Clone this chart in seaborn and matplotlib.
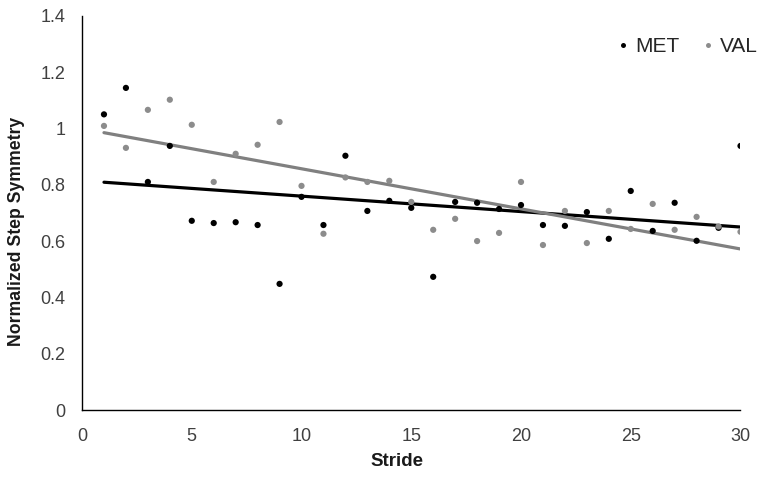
import numpy as np
import pandas as pd
import matplotlib
matplotlib.use('Agg')
import matplotlib.pyplot as plt
import seaborn as sns

stride = list(range(1, 31))
met = [1.05, 1.144, 0.81, 0.938, 0.672, 0.664, 0.667, 0.657, 0.448, 0.757,
       0.657, 0.903, 0.707, 0.743, 0.718, 0.473, 0.739, 0.736, 0.714, 0.728,
       0.657, 0.654, 0.703, 0.608, 0.778, 0.636, 0.736, 0.601, 0.647, 0.938]
val = [1.009, 0.931, 1.066, 1.102, 1.013, 0.810, 0.910, 0.942, 1.023, 0.796,
       0.626, 0.826, 0.810, 0.814, 0.739, 0.640, 0.679, 0.600, 0.629, 0.810,
       0.586, 0.707, 0.593, 0.707, 0.643, 0.732, 0.640, 0.686, 0.652, 0.633]

df = pd.DataFrame({'Stride': stride * 2,
                   'value': met + val,
                   'group': ['MET'] * 30 + ['VAL'] * 30})

colors = {'MET': '#000000', 'VAL': '#8c8c8c'}

sns.set_style('white')
plt.rcParams['font.family'] = ['Liberation Sans', 'DejaVu Sans']

fig = plt.figure(figsize=(7.63, 4.79), dpi=100)
ax = fig.add_axes([0.1075, 0.144, 0.863, 0.823])

# linear trendlines, drawn first
for g, lc in [('MET', '#000000'), ('VAL', '#808080')]:
    sub = df[df['group'] == g]
    k, b = np.polyfit(sub['Stride'], sub['value'], 1)
    fit = pd.DataFrame({'Stride': [1, 30]})
    fit['value'] = k * fit['Stride'] + b
    sns.lineplot(data=fit, x='Stride', y='value', color=lc, lw=2.3, ax=ax,
                 legend=False, zorder=1)

sns.scatterplot(data=df, x='Stride', y='value', hue='group', palette=colors,
                s=20, edgecolor='none', ax=ax, zorder=2)

ax.set_xlim(0, 30)
ax.set_ylim(0, 1.4)
ax.set_xticks([0, 5, 10, 15, 20, 25, 30])
ax.set_yticks([0, 0.2, 0.4, 0.6, 0.8, 1.0, 1.2, 1.4])
ax.set_yticklabels(['0', '0.2', '0.4', '0.6', '0.8', '1', '1.2', '1.4'])
ax.tick_params(labelsize=13, length=0, colors='#404040')
ax.tick_params(axis='x', pad=13)
ax.tick_params(axis='y', pad=12)
ax.set_xlabel('Stride', fontsize=13.5, fontweight='bold', color='#1a1a1a')
ax.set_ylabel('Normalized Step Symmetry', fontsize=12.7, fontweight='bold',
              color='#1a1a1a')
ax.xaxis.set_label_coords(0.479, -0.109)
ax.yaxis.set_label_coords(-0.087, 0.454)
for s in ['top', 'right']:
    ax.spines[s].set_visible(False)
for s in ['left', 'bottom']:
    ax.spines[s].set_color('#000000')
    ax.spines[s].set_linewidth(1)

leg = ax.legend(loc='upper right', ncol=2, frameon=False, fontsize=15,
                handlelength=1.0, handletextpad=0.1, columnspacing=0.85,
                markerscale=0.8, bbox_to_anchor=(1.055, 0.994))

fig.savefig('out.png', dpi=100)
